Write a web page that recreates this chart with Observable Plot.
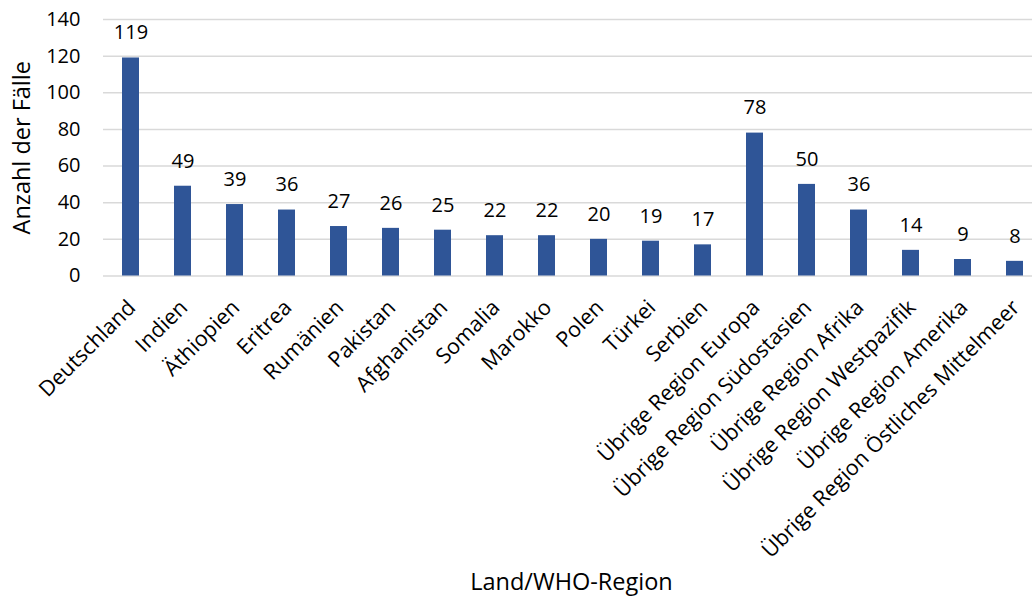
<!DOCTYPE html>
<html>
<head>
<meta charset="utf-8">
<script src="https://cdn.jsdelivr.net/npm/d3@7"></script>
<script src="https://cdn.jsdelivr.net/npm/@observablehq/plot@0.6"></script>
<style>
  html, body { margin: 0; padding: 0; background: #fff; }
  #chart svg { display: block; }
</style>
</head>
<body>
<div id="chart"></div>
<script>
// Fälle nach Land bzw. übriger WHO-Region
const categories = [
  "Deutschland", "Indien", "Äthiopien", "Eritrea", "Rumänien", "Pakistan",
  "Afghanistan", "Somalia", "Marokko", "Polen", "Türkei", "Serbien",
  "Übrige Region Europa", "Übrige Region Südostasien", "Übrige Region Afrika",
  "Übrige Region Westpazifik", "Übrige Region Amerika", "Übrige Region Östliches Mittelmeer"
];
const values = [119, 49, 39, 36, 27, 26, 25, 22, 22, 20, 19, 17, 78, 50, 36, 14, 9, 8];
const yTicks = [0, 20, 40, 60, 80, 100, 120, 140];
const yLabel = "Anzahl der Fälle";
const xLabel = "Land/WHO-Region";

const data = categories.map((c, i) => ({category: c, value: values[i]}));

const font = "'Open Sans', sans-serif";
const barColor = "#2F5597";
const gridColor = "#D9D9D9";

const chart = Plot.plot({
  width: 1032,
  height: 596,
  marginTop: 19,
  marginBottom: 320.5,
  marginLeft: 103,
  marginRight: 0,
  style: {fontFamily: font, fontSize: "20px", color: "#000", background: "#fff"},
  x: {domain: categories, range: [103, 1041], paddingInner: 0.68, paddingOuter: 0.34, axis: null},
  y: {domain: [0, 140], axis: null},
  marks: [
    Plot.ruleY(yTicks, {stroke: gridColor, strokeWidth: 1.5}),
    Plot.barY(data, {x: "category", y: "value", fill: barColor}),
    // value labels above the bars
    Plot.text(data, {x: "category", y: "value", text: d => String(d.value), dy: -25, fontSize: 20, fill: "#000"}),
    // y tick labels
    Plot.text(yTicks, {y: d => d, text: d => String(d), frameAnchor: "left", textAnchor: "end", dx: -23, fontSize: 20, fill: "#000"}),
    // rotated category labels
    Plot.text(data, {x: "category", text: "category", frameAnchor: "bottom", rotate: -45, textAnchor: "end", lineAnchor: "middle", dx: 1, dy: 28, fontSize: 21.5, fill: "#000"}),
    // axis titles
    Plot.text([yLabel], {text: d => d, frameAnchor: "left", rotate: -90, textAnchor: "middle", lineAnchor: "middle", dx: -81, fontSize: 23.5, fill: "#000"}),
    Plot.text([xLabel], {text: d => d, frameAnchor: "bottom", textAnchor: "middle", lineAnchor: "middle", dy: 306, dx: 3.5, fontSize: 23.5, fill: "#000"})
  ]
});

document.getElementById("chart").appendChild(chart);
</script>
</body>
</html>
